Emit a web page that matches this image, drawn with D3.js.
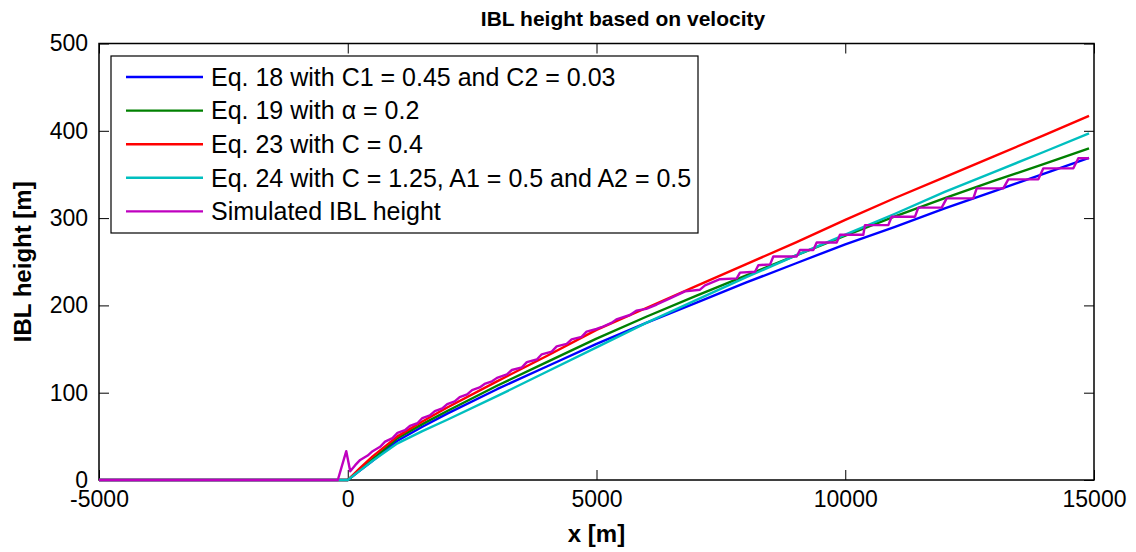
<!DOCTYPE html>
<html>
<head>
<meta charset="utf-8">
<script src="https://cdn.jsdelivr.net/npm/d3@7/dist/d3.min.js"></script>
<style>
  body { margin: 0; background: #fff; }
  svg { display: block; font-family: "Liberation Sans", Arial, Helvetica, sans-serif; }
  .tick text { font-size: 23px; fill: #000; }
  .tick line { stroke: #000; }
</style>
</head>
<body>
<svg id="chart" width="1136" height="552"></svg>
<script>
// tick values
var xTicks = [-5000, 0, 5000, 10000, 15000];
var yTicks = [0, 100, 200, 300, 400, 500];

// x positions shared by the four equation curves
var eqX = [-5000, 0, 250, 500, 1000, 1500, 2000, 3000, 4000, 5000, 6000, 7000, 8000, 9000, 10000, 11000, 12000, 13000, 14000, 14900];
var eq18 = [0, 0, 11, 22, 45, 61, 76, 104, 130, 156, 180, 203, 226, 248, 270, 290, 311, 331, 351, 369];
var eq19 = [0, 0, 12, 24, 48, 64, 79, 108, 135, 162, 187, 211, 234, 257, 280, 302, 323, 343, 362, 380];
var eq23 = [0, 0, 14, 27, 50, 67, 83, 113, 142, 172, 197, 222, 247, 272, 298, 323, 347, 371, 395, 417];
var eq24 = [0, 0, 11, 22, 42, 56, 69, 96, 124, 152, 180, 206, 232, 257, 281, 305, 330, 353, 376, 397];

// simulated IBL height (stepped)
var simX = [-5000, -200, -30, 50, 150, 250, 400, 500, 650, 750, 900, 1000, 1150, 1250, 1400, 1500, 1650, 1750, 1900, 2000,
  2150, 2250, 2400, 2500, 2650, 2750, 2900, 3000, 3200, 3300, 3500, 3600, 3800, 3900, 4100, 4200, 4400, 4500, 4700, 4800, 5000,
  5100, 5300, 5400, 5673, 5800, 6000, 6210, 6477, 6779, 7080, 7181, 7482, 7818, 7884, 8186, 8253, 8490, 8554, 9023, 9090,
  9358, 9426, 9828, 9894, 10363, 10397, 10866, 10933, 11402, 11469, 11938, 12039, 12574, 12642, 13177, 13278, 13881, 13982,
  14585, 14685, 14900];
var simY = [0, 0, 33, 10, 17, 23, 28, 33, 38, 44, 48, 54, 57, 62, 65, 71, 74, 79, 82, 87,
  90, 95, 98, 103, 106, 110, 113, 117, 121, 126, 129, 135, 138, 144, 147, 153, 156, 161, 164, 170, 173,
  175, 180, 184, 189, 194, 196, 201, 208, 216, 218, 223, 230, 231, 237.5, 238.6, 246, 247, 256, 256, 263.5,
  263.5, 272, 272, 281, 281, 292, 292, 301.6, 301.6, 312, 312, 322.6, 322.6, 334, 334, 344.4, 344.4, 357,
  357, 368.5, 368.5];

var labels = [
  "Eq. 18 with C1 = 0.45 and C2 = 0.03",
  "Eq. 19 with \u03b1 = 0.2",
  "Eq. 23 with C = 0.4",
  "Eq. 24 with C = 1.25, A1 = 0.5 and A2 = 0.5",
  "Simulated IBL height"
];
var colors = ["#0000ff", "#008000", "#ff0000", "#00bfbf", "#bf00bf"];

(function(){
  var series = [
    { x: eqX, y: eq18 },
    { x: eqX, y: eq19 },
    { x: eqX, y: eq23 },
    { x: eqX, y: eq24 },
    { x: simX, y: simY }
  ];

  var svg = d3.select("#chart");
  var pl = 99, pr = 1094, pt = 43.5, pb = 480;

  var x = d3.scaleLinear().domain([-5000, 15000]).range([pl, pr]);
  var y = d3.scaleLinear().domain([0, 500]).range([pb, pt]);

  svg.append("rect").attr("width", 1136).attr("height", 552).attr("fill", "#fff");

  function noDomain(g){ g.select(".domain").remove(); }

  // axes, ticks pointing inward on all four sides
  svg.append("g").attr("transform", "translate(0," + pb + ")")
    .call(d3.axisBottom(x).tickValues(xTicks).tickFormat(function(d){ return String(d); })
      .tickSizeInner(-10).tickSizeOuter(0).tickPadding(11))
    .call(noDomain);
  svg.append("g").attr("transform", "translate(" + pl + ",0)")
    .call(d3.axisLeft(y).tickValues(yTicks).tickFormat(function(d){ return String(d); })
      .tickSizeInner(-10).tickSizeOuter(0).tickPadding(11))
    .call(noDomain);
  svg.append("g").attr("transform", "translate(0," + pt + ")")
    .call(d3.axisTop(x).tickValues(xTicks).tickFormat("").tickSizeInner(-10).tickSizeOuter(0))
    .call(noDomain);
  svg.append("g").attr("transform", "translate(" + pr + ",0)")
    .call(d3.axisRight(y).tickValues(yTicks).tickFormat("").tickSizeInner(-10).tickSizeOuter(0))
    .call(noDomain);

  svg.append("rect")
    .attr("x", pl).attr("y", pt).attr("width", pr - pl).attr("height", pb - pt)
    .attr("fill", "none").attr("stroke", "#000").attr("stroke-width", 1.5);

  // curves
  var line = d3.line()
    .x(function(d){ return x(d[0]); })
    .y(function(d){ return y(d[1]); });

  series.forEach(function(s, i){
    var pts = s.x.map(function(v, j){ return [v, s.y[j]]; });
    svg.append("path")
      .datum(pts)
      .attr("d", line)
      .attr("fill", "none")
      .attr("stroke", colors[i])
      .attr("stroke-width", 2.4)
      .attr("stroke-linejoin", "round");
  });

  // legend
  var lg = svg.append("g");
  lg.append("rect")
    .attr("x", 111).attr("y", 56).attr("width", 587).attr("height", 177)
    .attr("fill", "#fff").attr("stroke", "#000").attr("stroke-width", 1.2);
  labels.forEach(function(t, i){
    var ly = 77 + i * 33.6;
    lg.append("line")
      .attr("x1", 126).attr("x2", 203).attr("y1", ly).attr("y2", ly)
      .attr("stroke", colors[i]).attr("stroke-width", 2.4);
    lg.append("text")
      .attr("x", 211).attr("y", ly).attr("dy", "0.35em")
      .attr("font-size", 25)
      .text(t);
  });

  // titles
  svg.append("text")
    .attr("x", 623).attr("y", 26)
    .attr("text-anchor", "middle").attr("font-size", 21).attr("font-weight", "bold")
    .text("IBL height based on velocity");
  svg.append("text")
    .attr("x", (pl + pr) / 2).attr("y", 542)
    .attr("text-anchor", "middle").attr("font-size", 24).attr("font-weight", "bold")
    .text("x [m]");
  svg.append("text")
    .attr("transform", "translate(31," + ((pt + pb) / 2) + ") rotate(-90)")
    .attr("text-anchor", "middle").attr("font-size", 24).attr("font-weight", "bold")
    .text("IBL height [m]");
})();
</script>
</body>
</html>
